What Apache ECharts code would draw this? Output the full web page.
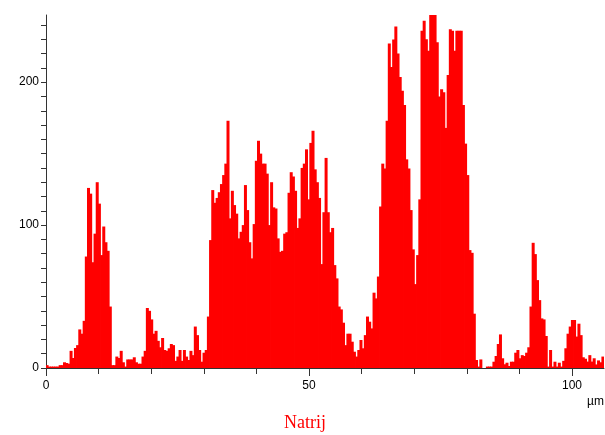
<!DOCTYPE html>
<html><head><meta charset="utf-8">
<script src="https://cdn.jsdelivr.net/npm/echarts@6/dist/echarts.min.js"></script>
<style>html,body{margin:0;padding:0;background:#fff}#c{width:605px;height:435px}</style>
</head><body><div id="c"></div>
<script>
// counts per bin (bin width ~0.414 µm, 256 bins)
const counts = [
 2,1,1,1,1,1,2,2,4,3.5, 3,12,7,14,16,27,24,33,78,126,
 122,74,94,130,115,79,99,88,82,43, 2,2,8,7,12,4,1,6,6,6,
 7.5,4,3,3,8,12,42,40,34,24, 26,19,14.5,21,12.6,12,13.8,16.8,16,5,
 8,12.6,5,12.6,8,5.6,12,9,29,23, 12.6,4.4,10.7,12.6,36,89.5,124.5,115.6,119,123,
 128.7,135,143,173,104.7,124,114,108,90.7,95.3, 100,128,110.5,88,76.7,100.7,145,159,150,143,
 143,136,100,130,112.4,111.6,90.7,81.3,82,94, 95,122.6,137,134,124,98,104.7,140,143,153,
 118,157.5,166,139,130,119,72.7,109,147,109, 95,98,72,62.7,43,41,31.7,16,24,24,
 18.4,11.4,8,12.6,19.6,13.8,23,36,32.4,27.7, 52.7,48.7,64,113,143,139.6,173,227,210.7,229.8,
 239,220,203.7,194,184,146,139.6,110.5,83,58.7, 79,118,236,243,230,222,250,250,250,228,
 190,195,193,168,205,237,236,222,236,236, 236,184,157,135,82.5,80.6,38,5.6,1,6,
 0,0,1,1,1,4.4,8.4,16.8,23.5,6.8, 2.6,3.7,1.4,4.4,4.4,10.7,12.6,6.8,9,8.4,
 10.7,14.5,43,87.6,79.7,61.5,47.5,34.7,34,22.4, 1,12.6,1,4.4,1,3.7,1,5,13.8,24,
 29,33.6,33.6,22,31,23,7.5,6.5,4.5,9, 4.5,6.8,2.5,5.3,4,8
];
const binWidthUm = 0.4144;
const xMaxUm = 106.08;
const yMax = 247;
const xMinorTicks = [0,10,20,30,40,50,60,70,80,90,100];
const xMajorTicks = [0,50,100];
const xLabels = [0,50,100];
const yTicks = [0,10,20,30,40,50,60,70,80,90,100,110,120,130,140,150,160,170,180,190,200,210,220,230,240];
const yLabels = [0,100,200];
const xUnit = 'µm';
const title = 'Natrij';

const categories = counts.map((_, i) => (i * binWidthUm).toFixed(3));
const axisColor = '#333';
const chart = echarts.init(document.getElementById('c'), null, {renderer: 'canvas'});
chart.setOption({
  animation: false,
  grid: {left: 46, right: 1, top: 15, bottom: 67, containLabel: false},
  xAxis: [
    {type: 'category', data: categories, show: false, boundaryGap: true, position: 'bottom'},
    {type: 'value', min: 0, max: xMaxUm, position: 'bottom',
     axisLine: {show: true, onZero: false, lineStyle: {color: axisColor, width: 1}},
     axisTick: {show: true, length: 6, customValues: xMinorTicks, lineStyle: {color: axisColor}},
     axisLabel: {show: true, customValues: xLabels, margin: 12, fontSize: 12, color: '#000', fontFamily: 'Liberation Sans'},
     splitLine: {show: false}},
    {type: 'value', min: 0, max: xMaxUm, position: 'bottom',
     axisLine: {show: false},
     axisTick: {show: true, length: 8, customValues: xMajorTicks, lineStyle: {color: axisColor}},
     axisLabel: {show: false}, splitLine: {show: false}}
  ],
  yAxis: {type: 'value', min: 0, max: yMax,
    axisLine: {show: true, lineStyle: {color: axisColor, width: 1}},
    axisTick: {show: true, length: 5, customValues: yTicks, lineStyle: {color: axisColor}},
    axisLabel: {show: true, customValues: yLabels, margin: 7, fontSize: 12, color: '#000', fontFamily: 'Liberation Sans'},
    splitLine: {show: false}},
  series: [{
    type: 'bar', xAxisIndex: 0, yAxisIndex: 0, data: counts,
    barWidth: 3, barGap: '-100%',
    itemStyle: {color: '#ff0000'}, silent: true
  }],
  graphic: [
    {type: 'text', left: 587, top: 396, style: {text: xUnit, font: '12px "Liberation Sans"', fill: '#000'}},
    {type: 'text', x: 305, y: 423, style: {text: title, font: '18px "Liberation Serif"', fill: '#ff0000', textAlign: 'center', textVerticalAlign: 'middle'}}
  ]
});
</script>
</body></html>
